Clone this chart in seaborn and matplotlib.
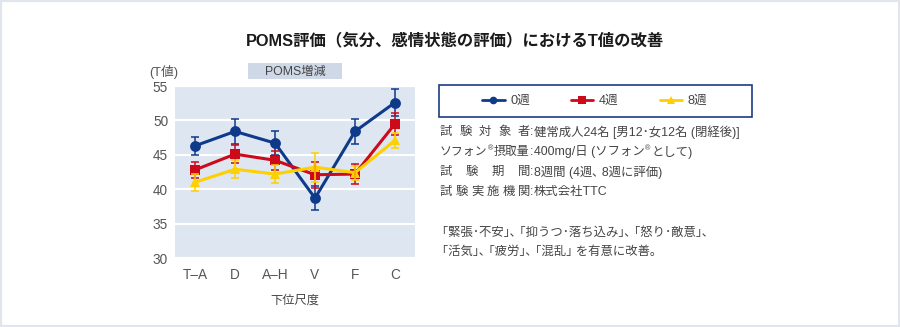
import numpy as np
import pandas as pd
import matplotlib
matplotlib.use("Agg")
import matplotlib.pyplot as plt
import seaborn as sns
from matplotlib.patches import Rectangle

# POMS subscale T-scores (mean and error) at each assessment week
scales = ["T–A", "D", "A–H", "V", "F", "C"]
weeks = ["0週", "4週", "8週"]
week0 = [46.3, 48.4, 46.7, 38.7, 48.4, 52.6]
week0_err = [1.3, 1.8, 1.7, 1.7, 1.8, 2.0]
week4 = [42.8, 45.1, 44.2, 42.1, 42.2, 49.5]
week4_err = [1.1, 1.3, 1.4, 1.9, 1.5, 1.6]
week8 = [41.0, 42.9, 42.2, 43.2, 42.4, 47.1]
week8_err = [1.2, 1.3, 1.3, 2.1, 1.0, 1.1]
yticks = [30, 35, 40, 45, 50, 55]

colors = {"0週": "#0e3a8a", "4週": "#cc0a1a", "8週": "#fdd000"}
markers = {"0週": "o", "4週": "s", "8週": "^"}
msizes = {"0週": 7.8, "4週": 6.8, "8週": 7.8}

sns.set_theme(style="white")
plt.rcParams["font.family"] = ["Liberation Sans", "Noto Sans CJK JP", "DejaVu Sans"]

W, H = 900, 327
DPI = 100
fig = plt.figure(figsize=(W / DPI, H / DPI), dpi=DPI)
fig.patch.set_facecolor("white")
renderer = fig.canvas.get_renderer()


def fx(px):
    return px / W


def fy(py):
    return 1 - py / H


def seq(x, y, pieces, color):
    """Place text pieces one after another from pixel x; each piece is (text, size, rise)."""
    cur = x
    for t, size, rise in pieces:
        a = fig.text(fx(cur), fy(y - rise), t, ha="left", va="center", fontsize=size, color=color)
        cur += a.get_window_extent(renderer).width + 0.6
    return cur


# thin outer frame
fig.patches.append(Rectangle((fx(1), fy(326)), fx(898), 325 / H, transform=fig.transFigure,
                             fill=False, edgecolor="#e2e6ec", lw=1.6))

ax = fig.add_axes([fx(175), fy(258), fx(415) - fx(175), (258 - 86) / H])
ax.set_facecolor("#dee6f1")

df = pd.DataFrame({
    "尺度": scales * 3,
    "T値": week0 + week4 + week8,
    "週": [w for w in weeks for _ in scales],
})

sns.lineplot(data=df, x="尺度", y="T値", hue="週", style="週", palette=colors,
             markers=markers, dashes=False, sort=False, ax=ax, lw=2.2,
             markersize=7.5, markeredgewidth=0)
for line, w in zip(ax.get_lines(), weeks):
    line.set_markersize(msizes[w])

xpos = np.arange(len(scales))
for w, vals, err in zip(weeks, [week0, week4, week8], [week0_err, week4_err, week8_err]):
    ax.errorbar(xpos, vals, yerr=err, fmt="none", ecolor=colors[w], elinewidth=1.3,
                capsize=3.2, capthick=1.3, alpha=0.85, zorder=3)

handles, labels = ax.get_legend_handles_labels()
if ax.get_legend() is not None:
    ax.get_legend().remove()

ax.set_xlim(-0.5, len(scales) - 0.5)
ax.set_ylim(30, 55)
ax.set_yticks(yticks)
ax.set_xticks(xpos)
ax.set_xticklabels(scales)
ax.set_xticks(xpos[:-1] + 0.5, minor=True)
ax.yaxis.grid(True, color="white", lw=1.6)
ax.set_axisbelow(True)
for s in ax.spines.values():
    s.set_visible(False)
ax.tick_params(axis="both", which="major", length=0, labelsize=9.8, labelcolor="#555555")
ax.tick_params(axis="y", pad=5)
ax.tick_params(axis="x", pad=7)
ax.tick_params(axis="x", which="minor", direction="in", length=4, width=1.1, color="#333333")
ax.set_xlabel("下位尺度", fontsize=8.8, color="#444444", labelpad=9)
ax.set_ylabel("")

# title and panel annotations
fig.text(fx(455), fy(40), "POMS評価（気分、感情状態の評価）におけるT値の改善", ha="center", va="center",
         fontsize=11.8, fontweight="bold", color="#1a1a1a")
fig.text(fx(164), fy(72), "(T値)", ha="center", va="center", fontsize=9.2, color="#555555")
fig.patches.append(Rectangle((fx(248), fy(79)), fx(94), 16 / H, transform=fig.transFigure,
                             facecolor="#cfd8e7", edgecolor="none"))
fig.text(fx(295), fy(71.5), "POMS増減", ha="center", va="center", fontsize=8.8, color="#444444")

# legend box
fig.patches.append(Rectangle((fx(438.5), fy(117)), fx(313.5), 32 / H, transform=fig.transFigure,
                             fill=False, edgecolor="#1c3c82", lw=1.2))
leg = fig.legend(handles, labels, loc="center", bbox_to_anchor=(fx(595), fy(101)), ncol=3,
                 frameon=False, handlelength=1.75, handletextpad=0.45, columnspacing=3.2,
                 fontsize=9.2, labelcolor="#444444")
for h in leg.legend_handles:
    h.set_markersize(5.5)
    h.set_linewidth(2.0)

# study details
txt_color = "#444444"
fs = 8.9
row_y = [132, 152, 172, 192]
spaced_labels = {0: "試験対象者", 2: "試験期間", 3: "試験実施機関"}
for i, lab in spaced_labels.items():
    centers = np.linspace(446, 524, len(lab))
    for ch, cx in zip(lab, centers):
        fig.text(fx(cx), fy(row_y[i]), ch, ha="center", va="center", fontsize=fs, color=txt_color)
# label with a raised registered mark
seq(440, row_y[1], [("ソフォン", 8.6, 0), ("®", 5.2, 3)], txt_color)
fig.text(fx(529.5), fy(row_y[1]), "摂取量", ha="right", va="center", fontsize=8.6, color=txt_color)

for y in row_y:
    fig.text(fx(531.8), fy(y), ":", ha="center", va="center", fontsize=fs, color=txt_color)

seq(534, row_y[0], [("健常成人24名 [男12･女12名 (閉経後)]", fs, 0)], txt_color)
seq(534, row_y[1], [("400mg/日 (ソフォン", fs, 0), ("®", 5.2, 3), ("として)", fs, 0)], txt_color)
seq(534, row_y[2], [("8週間 (4週､ 8週に評価)", fs, 0)], txt_color)
seq(534, row_y[3], [("株式会社TTC", fs, 0)], txt_color)

fig.text(fx(442), fy(233), "｢緊張･不安｣､ ｢抑うつ･落ち込み｣､ ｢怒り･敵意｣､", ha="left", va="center",
         fontsize=fs, color=txt_color)
fig.text(fx(442), fy(252), "｢活気｣､ ｢疲労｣､ ｢混乱｣ を有意に改善｡", ha="left", va="center",
         fontsize=fs, color=txt_color)

fig.savefig("out.png", dpi=DPI, facecolor="white")
